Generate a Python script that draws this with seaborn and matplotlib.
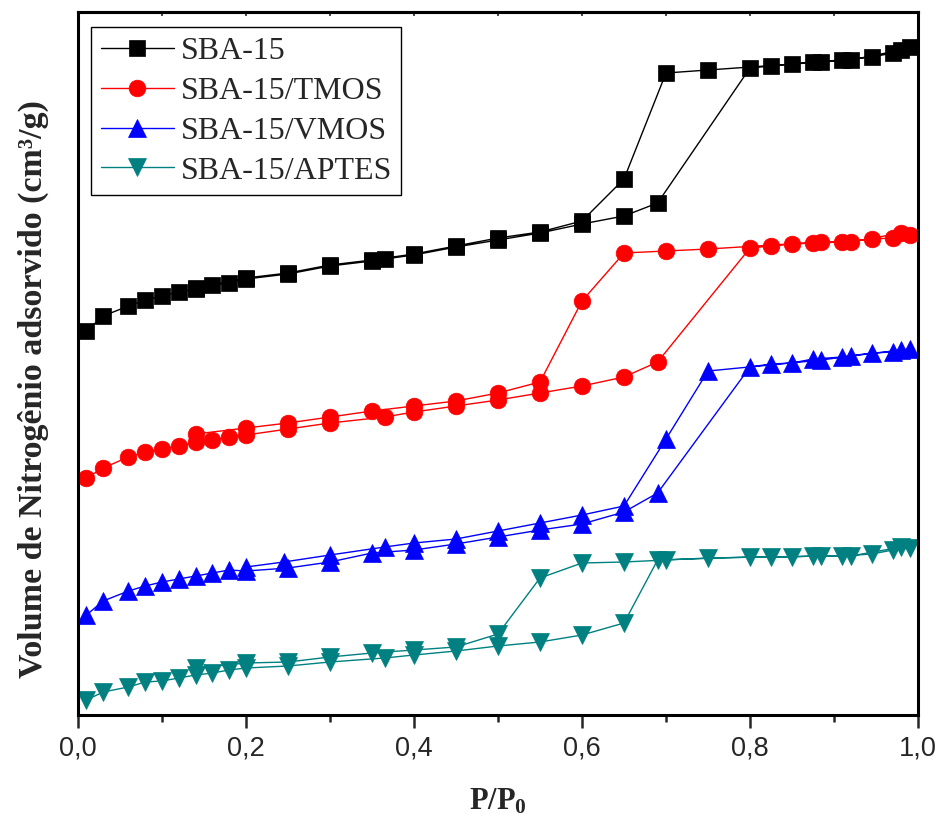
import numpy as np
import pandas as pd
import matplotlib
matplotlib.use("Agg")
import matplotlib.pyplot as plt
from matplotlib.ticker import FuncFormatter, MultipleLocator
import seaborn as sns

# N2 isotherms: adsorption branch (rising P/P0) then desorption branch (falling)
# volumes in arbitrary units, curves are offset as in the original figure

sba_ads_p = [0.01, 0.03, 0.06, 0.08, 0.10, 0.12, 0.14, 0.16, 0.18, 0.20, 0.25, 0.30, 0.35,
             0.365, 0.40, 0.45, 0.50, 0.55, 0.60, 0.65, 0.69, 0.80, 0.825, 0.85, 0.875, 0.91,
             0.945, 0.97, 0.99]
sba_ads_v = [384, 399, 409, 415, 419, 423, 426, 430, 432, 436, 441, 449, 454,
             456, 460, 468, 475, 482, 491, 499, 512, 647, 649, 651, 653, 655,
             658, 662, 668]
sba_des_p = [0.98, 0.92, 0.885, 0.75, 0.70, 0.65, 0.60, 0.55, 0.50, 0.45, 0.40, 0.35, 0.30,
             0.25, 0.20, 0.14]
sba_des_v = [665, 655, 653, 645, 642, 536, 494, 483, 477, 469, 461, 455, 450,
             442, 437, 427]

tmos_ads_p = [0.01, 0.03, 0.06, 0.08, 0.10, 0.12, 0.14, 0.16, 0.18, 0.20, 0.25, 0.30, 0.365,
              0.40, 0.45, 0.50, 0.55, 0.60, 0.65, 0.69, 0.80, 0.825, 0.85, 0.875, 0.91,
              0.945, 0.97, 0.99]
tmos_ads_v = [237, 247, 258, 263, 266, 269, 273, 275, 278, 280, 286, 292, 298,
              303, 309, 315, 322, 329, 338, 353, 467, 469, 471, 472, 473,
              476, 477, 480]
tmos_des_p = [0.98, 0.92, 0.885, 0.75, 0.70, 0.65, 0.60, 0.55, 0.50, 0.45, 0.40, 0.35, 0.30,
              0.25, 0.20, 0.14]
tmos_des_v = [482, 473, 473, 466, 464, 462, 414, 333, 322, 314, 309, 304, 298,
              292, 287, 281]

vmos_ads_p = [0.01, 0.03, 0.06, 0.08, 0.10, 0.12, 0.14, 0.16, 0.18, 0.20, 0.25, 0.30, 0.35,
              0.40, 0.45, 0.50, 0.55, 0.60, 0.65, 0.69, 0.80, 0.825, 0.85, 0.875, 0.91,
              0.945, 0.97, 0.99]
vmos_ads_v = [100, 114, 124, 129, 133, 136, 139, 142, 145, 144, 147, 153, 162,
              165, 171, 178, 185, 191, 203, 222, 348, 351, 352, 356, 358,
              362, 363, 366]
vmos_des_p = [0.98, 0.92, 0.885, 0.75, 0.70, 0.65, 0.60, 0.55, 0.50, 0.45, 0.40, 0.365, 0.30,
              0.245, 0.20]
vmos_des_v = [365, 359, 355, 344, 276, 209, 200, 192, 184, 176, 172, 168, 160,
              153, 148]

aptes_ads_p = [0.01, 0.03, 0.06, 0.08, 0.10, 0.12, 0.14, 0.16, 0.18, 0.20, 0.25, 0.30, 0.365,
               0.40, 0.45, 0.50, 0.55, 0.60, 0.65, 0.69, 0.80, 0.825, 0.85, 0.875, 0.91,
               0.945, 0.97, 0.99]
aptes_ads_v = [15, 23, 28, 33, 34, 37, 40, 42, 45, 47, 49, 53, 57,
               60, 64, 69, 73, 80, 92, 155, 158, 158, 158, 159, 159,
               161, 165, 167]
aptes_des_p = [0.98, 0.92, 0.885, 0.75, 0.70, 0.65, 0.60, 0.55, 0.50, 0.45, 0.40, 0.35, 0.30,
               0.25, 0.20, 0.14]
aptes_des_v = [168, 159, 159, 157, 155, 153, 152, 137, 81, 68, 65, 62, 58,
               53, 52, 47]

labels = ["SBA-15", "SBA-15/TMOS", "SBA-15/VMOS", "SBA-15/APTES"]
colors = ["#000000", "#ff0000", "#0000ff", "#008080"]
markers = ["s", "o", "^", "v"]
msizes = [12, 12, 13, 13]

series = [
    (sba_ads_p + sba_des_p, sba_ads_v + sba_des_v),
    (tmos_ads_p + tmos_des_p, tmos_ads_v + tmos_des_v),
    (vmos_ads_p + vmos_des_p, vmos_ads_v + vmos_des_v),
    (aptes_ads_p + aptes_des_p, aptes_ads_v + aptes_des_v),
]

sns.set_style("ticks")
plt.rcParams["font.family"] = ["Liberation Sans", "DejaVu Sans"]
plt.rcParams["mathtext.fontset"] = "custom"
plt.rcParams["mathtext.rm"] = "Liberation Serif"
plt.rcParams["mathtext.bf"] = "Liberation Serif:bold"

fig = plt.figure(figsize=(9.36, 8.25), dpi=100)
ax = fig.add_axes([78 / 936, 1 - 715 / 825, 840 / 936, 703 / 825])

for (p, v), lab, col, mk, ms in zip(series, labels, colors, markers, msizes):
    df = pd.DataFrame({"p": p, "v": v})
    sns.lineplot(data=df, x="p", y="v", sort=False, estimator=None, ax=ax,
                 color=col, lw=1, marker=mk, markersize=ms,
                 markeredgecolor=col, markeredgewidth=0.5, label=lab)

ax.set_xlim(0, 1.0)
ax.set_ylim(0, 703)
ax.set_yticks([])
ax.xaxis.set_major_locator(MultipleLocator(0.2))
ax.xaxis.set_minor_locator(MultipleLocator(0.1))
ax.xaxis.set_major_formatter(FuncFormatter(lambda x, pos: f"{x:.1f}".replace(".", ",")))
ax.tick_params(axis="x", which="major", direction="out", length=9.5, width=1.8,
               labelsize=19.5, pad=5)
ax.tick_params(axis="x", which="minor", direction="out", length=5, width=1.8)

for s in ax.spines.values():
    s.set_visible(True)
    s.set_linewidth(2.2)
    s.set_color("black")

top = ax.secondary_xaxis("top")
top.xaxis.set_major_locator(MultipleLocator(0.1))
top.tick_params(direction="in", length=3, width=1.2, labeltop=False)
top.spines["top"].set_linewidth(2.2)

ax.set_xlabel(r"$\mathbf{P/P_0}$", fontsize=22, labelpad=18)
ax.set_ylabel("")
fig.text(33 / 936, 1 - 389 / 825, "Volume de Nitrogênio adsorvido (cm³/g)",
         rotation=90, ha="center", va="center", fontsize=24.5,
         fontweight="bold", family=["Liberation Serif", "DejaVu Serif"])

ax.legend(loc="upper left", bbox_to_anchor=(13 / 840, 1 - 15 / 703), borderaxespad=0,
          prop={"family": "Liberation Serif", "size": 23}, frameon=True, fancybox=False,
          edgecolor="black", framealpha=1, handlelength=2.3, handletextpad=0.2,
          labelspacing=0.33, borderpad=0.3)
ax.get_legend().get_frame().set_linewidth(1.0)

fig.savefig("out.png", dpi=100)
